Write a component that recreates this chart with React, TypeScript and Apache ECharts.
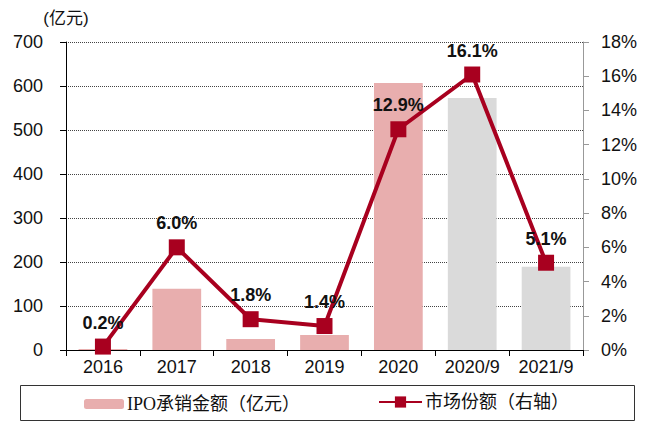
import React, { useEffect, useRef } from "react";
import * as echarts from "echarts";

const categories = ["2016", "2017", "2018", "2019", "2020", "2020/9", "2021/9"];
const ipoAmount = [2, 139, 25, 34, 607, 573, 189];
const marketShare = [0.2, 6.0, 1.8, 1.4, 12.9, 16.1, 5.1];
const pinkCount = 5;

const PINK = "#E8AEAE";
const GREY = "#DADADA";
const RED = "#A8001F";
const SANS = "'Liberation Sans', Arial, 'Noto Sans CJK SC', sans-serif";
const SERIF = "'Liberation Serif', 'Noto Sans CJK SC', serif";

export default function App() {
  const ref = useRef<HTMLDivElement>(null);
  useEffect(() => {
    if (!ref.current) return;
    const chart = echarts.init(ref.current, undefined, { renderer: "svg" });
    chart.setOption({
      animation: false,
      backgroundColor: "#fff",
      grid: { left: 66, right: 65, top: 42, bottom: 73, containLabel: false },
      xAxis: {
        type: "category",
        data: categories,
        axisLine: { lineStyle: { color: "#000", width: 1 } },
        axisTick: { show: true, length: 6, lineStyle: { color: "#000" } },
        axisLabel: { color: "#111", fontSize: 18, fontFamily: SANS, margin: 8 },
      },
      yAxis: [
        {
          type: "value",
          min: 0,
          max: 700,
          interval: 100,
          name: "(亿元)",
          nameLocation: "end",
          nameGap: 15,
          nameTextStyle: { color: "#111", fontSize: 17, fontFamily: SANS, align: "center" },
          axisLine: { show: true, lineStyle: { color: "#000" } },
          axisTick: { show: true, length: 6, lineStyle: { color: "#000" } },
          axisLabel: { color: "#111", fontSize: 18, fontFamily: SANS, margin: 23 },
          splitLine: { show: true, lineStyle: { color: "#444", type: "dotted", width: 1 } },
        },
        {
          type: "value",
          min: 0,
          max: 18,
          interval: 2,
          position: "right",
          axisLine: { show: true, lineStyle: { color: "#999" } },
          axisTick: { show: true, length: 6, lineStyle: { color: "#999" } },
          axisLabel: { color: "#111", fontSize: 18, fontFamily: SANS, margin: 18, formatter: "{value}%" },
          splitLine: { show: false },
        },
      ],
      legend: [
        {
          data: ["IPO承销金额（亿元）"],
          left: 84,
          top: 395,
          padding: 0,
          itemWidth: 40,
          itemHeight: 10,
          textStyle: { color: "#111", fontSize: 18, fontFamily: SERIF, padding: [0, 0, 0, -2] },
        },
        {
          data: ["市场份额（右轴）"],
          left: 378,
          top: 393,
          padding: 0,
          itemWidth: 43,
          itemHeight: 14,
          textStyle: { color: "#111", fontSize: 18, fontFamily: SERIF, padding: [0, 0, 0, -2] },
        },
      ],
      graphic: [
        {
          type: "rect",
          shape: { x: 20.5, y: 385.5, width: 614, height: 35 },
          style: { fill: "none", stroke: "#333", lineWidth: 1 },
          silent: true,
        },
      ],
      series: [
        {
          name: "IPO承销金额（亿元）",
          type: "bar",
          yAxisIndex: 0,
          barCategoryGap: "34%",
          itemStyle: { color: PINK },
          data: ipoAmount.map((v, i) => ({
            value: v,
            itemStyle: { color: i < pinkCount ? PINK : GREY },
          })),
        },
        {
          name: "市场份额（右轴）",
          type: "line",
          yAxisIndex: 1,
          data: marketShare,
          symbol: "rect",
          symbolSize: 16,
          lineStyle: { color: RED, width: 4 },
          itemStyle: { color: RED },
          label: {
            show: true,
            position: "top",
            distance: 7,
            color: "#111",
            fontSize: 18,
            fontWeight: "bold",
            fontFamily: SANS,
            formatter: (p: any) => p.value.toFixed(1) + "%",
          },
          z: 5,
        },
      ],
    });
    return () => chart.dispose();
  }, []);
  return (
    <div
      ref={ref}
      style={{ position: "fixed", left: 0, top: 0, width: 648, height: 423 }}
    />
  );
}
